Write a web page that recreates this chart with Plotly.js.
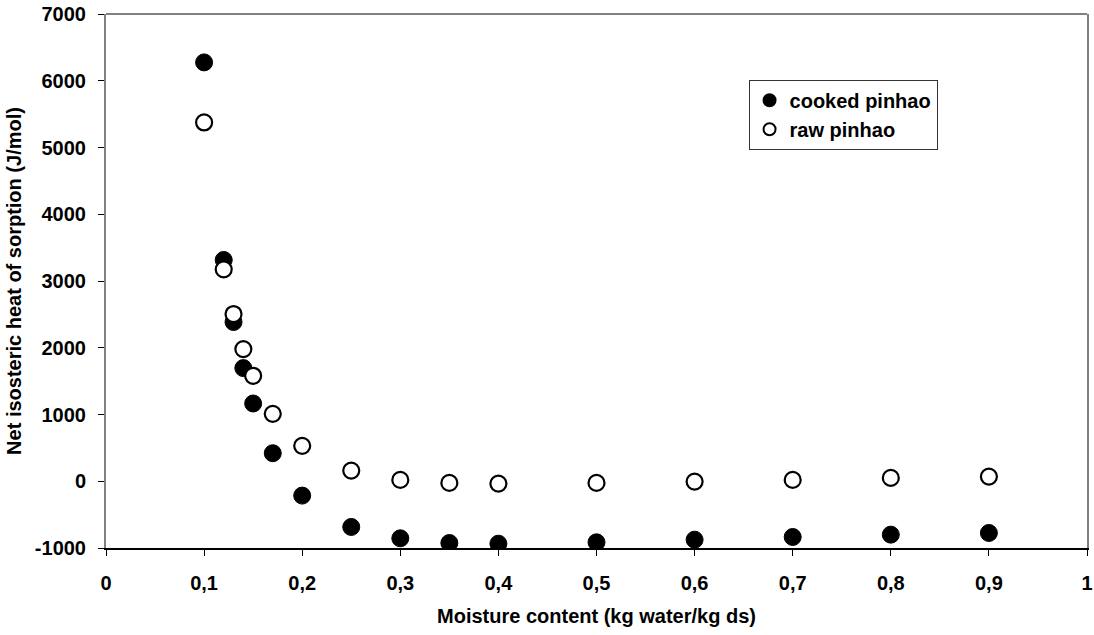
<!DOCTYPE html>
<html>
<head>
<meta charset="utf-8">
<script src="https://cdn.plot.ly/plotly-3.0.1.min.js"></script>
<style>html,body{margin:0;padding:0;background:#fff;}#chart{width:1094px;height:635px;}</style>
</head>
<body>
<div id="chart"></div>
<script>
const moisture = [0.1, 0.12, 0.13, 0.14, 0.15, 0.17, 0.2, 0.25, 0.3, 0.35, 0.4, 0.5, 0.6, 0.7, 0.8, 0.9];
const cookedHeat = [6275, 3315, 2385, 1695, 1165, 420, -215, -685, -855, -925, -935, -915, -875, -835, -800, -775];
const rawHeat = [5375, 3175, 2505, 1980, 1580, 1010, 530, 160, 20, -25, -35, -25, -5, 20, 50, 70];
const xTickVals = [0, 0.1, 0.2, 0.3, 0.4, 0.5, 0.6, 0.7, 0.8, 0.9, 1];
const xTickText = ["0", "0,1", "0,2", "0,3", "0,4", "0,5", "0,6", "0,7", "0,8", "0,9", "1"];
const yTickVals = [-1000, 0, 1000, 2000, 3000, 4000, 5000, 6000, 7000];
const yTickText = ["-1000", "0", "1000", "2000", "3000", "4000", "5000", "6000", "7000"];
const seriesNames = ["cooked pinhao", "raw pinhao"];
const xTitle = "Moisture content (kg water/kg ds)";
const yTitle = "Net isosteric heat of sorption (J/mol)";

const fam = "Liberation Sans, Arial, sans-serif";
const b = t => "<b>" + t + "</b>";
const f = s => ({family: fam, size: s, color: "#000", weight: 700});

const traces = [
  {x: moisture, y: cookedHeat, name: b(seriesNames[0]), type: "scatter", mode: "markers",
   marker: {symbol: "circle", size: 17, color: "#000", line: {color: "#000", width: 1}}},
  {x: moisture, y: rawHeat, name: b(seriesNames[1]), type: "scatter", mode: "markers",
   marker: {symbol: "circle", size: 16, color: "#fff", line: {color: "#000", width: 2.2}}}
];

const layout = {
  width: 1094, height: 635,
  margin: {l: 106, r: 7, t: 14, b: 87},
  paper_bgcolor: "#fff", plot_bgcolor: "#fff",
  font: f(20),
  showlegend: true,
  legend: {x: 0.655, y: 0.877, xanchor: "left", yanchor: "top",
    bordercolor: "#333", borderwidth: 1, bgcolor: "#fff",
    font: f(20), itemsizing: "constant", itemwidth: 30, tracegroupgap: 0},
  xaxis: {range: [0, 1], tickvals: xTickVals, ticktext: xTickText.map(b),
    showgrid: false, zeroline: false, showline: true, linecolor: "#000", linewidth: 1.5,
    ticks: "outside", ticklen: 6, tickcolor: "#000", ticklabelstandoff: 10,
    tickfont: f(20),
    title: {text: b(xTitle), standoff: 16, font: f(20)}},
  yaxis: {range: [-1000, 7000], tickvals: yTickVals, ticktext: yTickText.map(b),
    showgrid: false, zeroline: false, showline: true, mirror: true, linecolor: "#808080", linewidth: 2,
    ticks: "outside", ticklen: 6, tickcolor: "#000", ticklabelstandoff: 8,
    tickfont: f(20),
    title: {text: b(yTitle), standoff: 8, font: f(20)}},
  shapes: [{type: "line", xref: "paper", yref: "paper", x0: 0, x1: 1, y0: 1, y1: 1,
    line: {color: "#808080", width: 2}}]
};

Plotly.newPlot("chart", traces, layout, {displayModeBar: false, staticPlot: true});
</script>
</body>
</html>
